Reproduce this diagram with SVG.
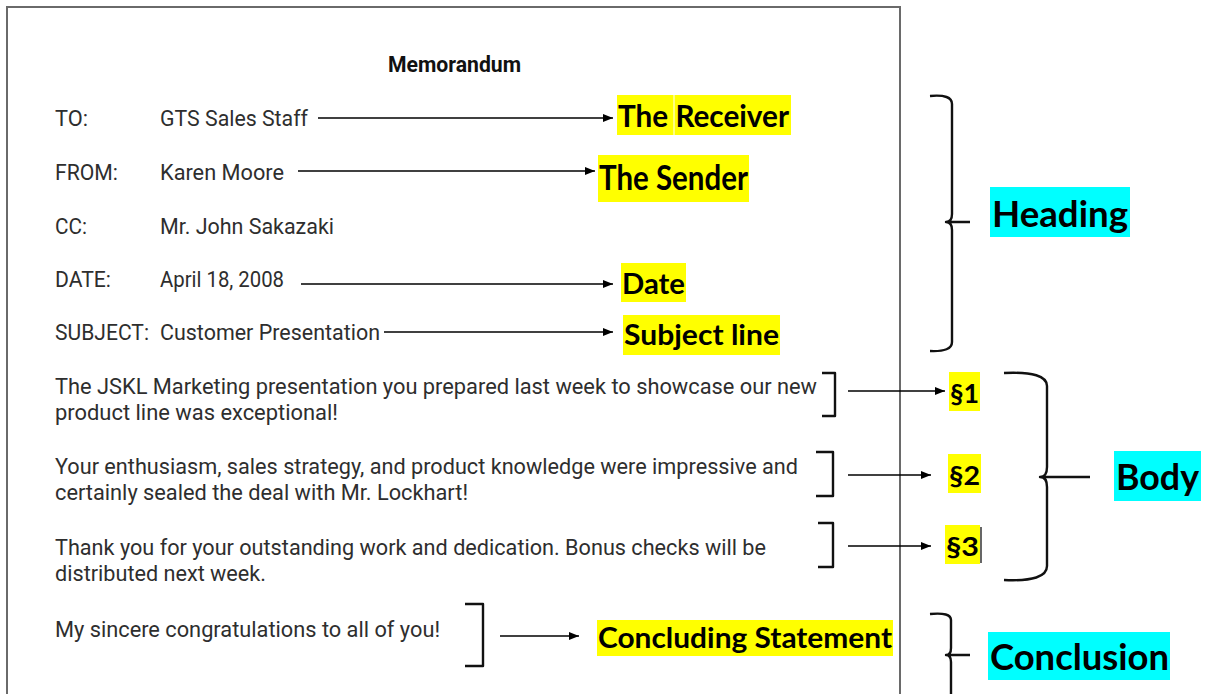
<svg xmlns="http://www.w3.org/2000/svg" width="1209" height="694" viewBox="0 0 1209 694">
  <style>
    .memo { font-family: "Roboto", "Liberation Sans", sans-serif; font-size: 22.5px; fill: #2e2e2e; }
    .title { font-family: "Roboto", "Liberation Sans", sans-serif; font-size: 22px; font-weight: bold; fill: #111; }
    .tag { font-family: "Lato", "Open Sans", sans-serif; font-weight: bold; fill: #000; }
    .hl { fill: #ffff00; }
    .sec { fill: #00ffff; }
    .wire { stroke: #000; stroke-width: 1.3; fill: none; }
    .brk { stroke: #111; stroke-width: 2.4; fill: none; stroke-linejoin: round; }
    .frame { stroke: #6a6a6a; stroke-width: 2; fill: none; }
  </style>
  <defs>
    <marker id="arrow" viewBox="0 0 10 8" refX="10" refY="4" markerWidth="10" markerHeight="8" markerUnits="userSpaceOnUse" orient="auto">
      <path d="M0,0 L10,4 L0,8 z" fill="#000"/>
    </marker>
  </defs>

  <rect width="1209" height="694" fill="#fff"/>

  <!-- memo page frame -->
  <g id="page">
    <path class="frame" d="M7,694 L7,7 L900,7 L900,694"/>
    <text class="title" x="388" y="72" textLength="133" lengthAdjust="spacingAndGlyphs">Memorandum</text>
  </g>

  <!-- memo header lines -->
  <g id="memo-to">
    <text class="memo" x="55" y="126" textLength="33" lengthAdjust="spacingAndGlyphs">TO:</text>
    <text class="memo" x="160" y="126" textLength="148" lengthAdjust="spacingAndGlyphs">GTS Sales Staff</text>
  </g>
  <g id="memo-from">
    <text class="memo" x="55" y="180" textLength="63" lengthAdjust="spacingAndGlyphs">FROM:</text>
    <text class="memo" x="160" y="180" textLength="124" lengthAdjust="spacingAndGlyphs">Karen Moore</text>
  </g>
  <g id="memo-cc">
    <text class="memo" x="55" y="234" textLength="32" lengthAdjust="spacingAndGlyphs">CC:</text>
    <text class="memo" x="160" y="234" textLength="174" lengthAdjust="spacingAndGlyphs">Mr. John Sakazaki</text>
  </g>
  <g id="memo-date">
    <text class="memo" x="55" y="287" textLength="56" lengthAdjust="spacingAndGlyphs">DATE:</text>
    <text class="memo" x="160" y="287" textLength="124" lengthAdjust="spacingAndGlyphs">April 18, 2008</text>
  </g>
  <g id="memo-subject">
    <text class="memo" x="55" y="340" textLength="94" lengthAdjust="spacingAndGlyphs">SUBJECT:</text>
    <text class="memo" x="160" y="340" textLength="220" lengthAdjust="spacingAndGlyphs">Customer Presentation</text>
  </g>

  <!-- memo body paragraphs -->
  <g id="para-1">
    <text class="memo" x="55" y="394" textLength="762" lengthAdjust="spacingAndGlyphs">The JSKL Marketing presentation you prepared last week to showcase our new</text>
    <text class="memo" x="55" y="420" textLength="283" lengthAdjust="spacingAndGlyphs">product line was exceptional!</text>
    <path class="brk" d="M822,373 L835,373 L835,416 L822,416"/>
  </g>
  <g id="para-2">
    <text class="memo" x="55" y="474" textLength="743" lengthAdjust="spacingAndGlyphs">Your enthusiasm, sales strategy, and product knowledge were impressive and</text>
    <text class="memo" x="55" y="500" textLength="413" lengthAdjust="spacingAndGlyphs">certainly sealed the deal with Mr. Lockhart!</text>
    <path class="brk" d="M816,452 L833,452 L833,496 L816,496"/>
  </g>
  <g id="para-3">
    <text class="memo" x="55" y="555" textLength="711" lengthAdjust="spacingAndGlyphs">Thank you for your outstanding work and dedication. Bonus checks will be</text>
    <text class="memo" x="55" y="581" textLength="211" lengthAdjust="spacingAndGlyphs">distributed next week.</text>
    <path class="brk" d="M818,523 L833,523 L833,567 L818,567"/>
  </g>
  <g id="closing">
    <text class="memo" x="55" y="637" textLength="385" lengthAdjust="spacingAndGlyphs">My sincere congratulations to all of you!</text>
    <path class="brk" d="M465,604 L483,604 L483,666 L465,666"/>
  </g>

  <!-- part labels -->
  <g id="label-receiver">
    <rect class="hl" x="617" y="95" width="174" height="40"/>
    <line x1="674" y1="95" x2="674" y2="135" stroke="#fff" stroke-width="1"/>
    <text class="tag" x="618" y="127" font-size="30" textLength="171" lengthAdjust="spacingAndGlyphs">The Receiver</text>
  </g>
  <g id="label-sender">
    <rect class="hl" x="598" y="155" width="151" height="47"/>
    <text class="tag" x="599" y="190" font-size="34" textLength="149" lengthAdjust="spacingAndGlyphs">The Sender</text>
  </g>
  <g id="label-date">
    <rect class="hl" x="621" y="263" width="65" height="39"/>
    <text class="tag" x="622" y="294" font-size="28" textLength="63" lengthAdjust="spacingAndGlyphs">Date</text>
  </g>
  <g id="label-subject">
    <rect class="hl" x="623" y="315" width="157" height="40"/>
    <text class="tag" x="624" y="345" font-size="29" textLength="155" lengthAdjust="spacingAndGlyphs">Subject line</text>
  </g>
  <g id="label-p1">
    <rect class="hl" x="949" y="372" width="31" height="39"/>
    <text class="tag" x="950" y="403" font-size="27" textLength="29" lengthAdjust="spacingAndGlyphs">§1</text>
  </g>
  <g id="label-p2">
    <rect class="hl" x="948" y="454" width="33" height="39"/>
    <text class="tag" x="949" y="485" font-size="27" textLength="31" lengthAdjust="spacingAndGlyphs">§2</text>
  </g>
  <g id="label-p3">
    <rect class="hl" x="945" y="525" width="35" height="39"/>
    <text class="tag" x="946" y="556" font-size="27" textLength="33" lengthAdjust="spacingAndGlyphs">§3</text>
    <line x1="981" y1="527" x2="981" y2="563" stroke="#000" stroke-width="1.2"/>
  </g>
  <g id="label-concluding">
    <rect class="hl" x="597" y="620" width="296" height="36"/>
    <text class="tag" x="598" y="648" font-size="29" textLength="294" lengthAdjust="spacingAndGlyphs">Concluding Statement</text>
  </g>

  <!-- section labels -->
  <g id="section-heading">
    <path class="brk" d="M930,96 Q952,94 952,104 L952,214 Q952,222 946,222 Q952,222 952,230 L952,342 Q952,352 930,351 M946,222 L970,222"/>
    <rect class="sec" x="990" y="187" width="140" height="50"/>
    <text class="tag" x="992" y="227" font-size="37" textLength="136" lengthAdjust="spacingAndGlyphs">Heading</text>
  </g>
  <g id="section-body">
    <path class="brk" d="M1004,373 Q1047,371 1047,386 L1047,467 Q1047,477 1040,477 Q1047,477 1047,487 L1047,566 Q1047,582 1004,580 M1040,477 L1090,477"/>
    <rect class="sec" x="1114" y="451" width="87" height="50"/>
    <text class="tag" x="1116" y="490" font-size="36" textLength="83" lengthAdjust="spacingAndGlyphs">Body</text>
  </g>
  <g id="section-conclusion">
    <path class="brk" d="M930,614 Q951,612 951,620 L951,648 Q951,655 946,655 Q951,655 951,662 L951,694 M946,655 L970,655"/>
    <rect class="sec" x="988" y="632" width="182" height="48"/>
    <text class="tag" x="990" y="670" font-size="37" textLength="179" lengthAdjust="spacingAndGlyphs">Conclusion</text>
  </g>

  <!-- connectors -->
  <g id="connectors">
    <line class="wire" x1="318" y1="118" x2="613" y2="118" marker-end="url(#arrow)"/>
    <line class="wire" x1="298" y1="171" x2="595" y2="171" marker-end="url(#arrow)"/>
    <line class="wire" x1="301" y1="284" x2="613" y2="284" marker-end="url(#arrow)"/>
    <line class="wire" x1="384" y1="332" x2="613" y2="332" marker-end="url(#arrow)"/>
    <line class="wire" x1="848" y1="391" x2="945" y2="391" marker-end="url(#arrow)"/>
    <line class="wire" x1="848" y1="475" x2="931" y2="475" marker-end="url(#arrow)"/>
    <line class="wire" x1="848" y1="546" x2="931" y2="546" marker-end="url(#arrow)"/>
    <line class="wire" x1="500" y1="636" x2="579" y2="636" marker-end="url(#arrow)"/>
  </g>
</svg>
